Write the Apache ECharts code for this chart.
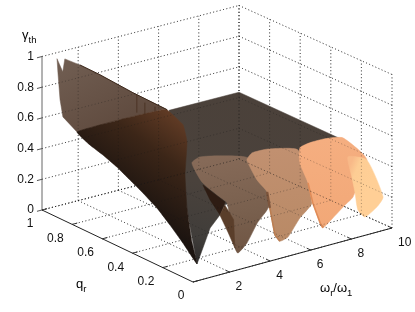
<!DOCTYPE html>
<html><head><meta charset="utf-8">
<style>html,body{margin:0;padding:0;background:#fff}#c{width:415px;height:312px}</style>
<script src="https://cdn.jsdelivr.net/npm/echarts@6/dist/echarts.min.js"></script>
</head><body><div id="c"></div>
<script>
// Tick values
const omegaTicks = [2, 4, 6, 8, 10];
const qTicks = [0, 0.2, 0.4, 0.6, 0.8, 1];
const gammaTicks = [0, 0.2, 0.4, 0.6, 0.8, 1];
const omegaLabels = ['2', '4', '6', '8', '10'];
const qLabels = ['0', '0.2', '0.4', '0.6', '0.8', '1'];
const gammaLabels = ['0', '0.2', '0.4', '0.6', '0.8', '1'];
// Surface outlines, each vertex [omega_r/omega_1, q_r, gamma_th]
const plateau = [[10,1,.435],[10,.33,.43],[5.98,.069,.556],[4.02,.136,.53],[3.14,.07,.4],[2.65,.118,.36],[2.16,.085,.327],[1.87,.111,.24],[1.47,.105,.127],[1.18,.105,.033],[1.38,.211,.394],[1.38,.31,.805],[6.52,1,.435]];
const wall = [[.94,.999,.961],[1.18,.993,.87],[1.23,.986,.956],[1.23,.887,.963],[1.23,.754,.961],[1.23,.536,.946],[1.23,.311,.941],[.94,.297,.958],[.94,.582,.759],[.94,.867,.546],[.94,.96,.6],[.94,.979,.703],[.94,.993,.873]];
const valley1 = [[.94,.867,.546],[.94,.582,.759],[.94,.297,.958],[1.38,.33,.926],[1.38,.225,.878],[1.38,.198,.779],[1.38,.211,.557],[1.38,.198,.348],[1.38,.165,.141],[1.18,.105,.033],[.98,.172,.146],[.98,.258,.224],[.98,.344,.294],[.98,.436,.348],[.98,.523,.393],[.98,.609,.437],[.98,.701,.472],[.98,.787,.497]];
const fold = [[2.36,.224,.451],[2.36,.078,.408],[2.36,.111,.308],[2.36,.177,.375]];
const sliver = [[2.65,.118,.359],[2.65,.151,.278],[2.65,.098,.192],[2.65,.052,.11],[2.65,.06,.29]];
const lobe3 = [[2.36,.297,.56],[3.14,.349,.547],[3.14,.217,.616],[4.12,.163,.593],[4.51,.037,.428],[4.02,.024,.32],[3.73,.044,.245],[3.24,.051,.122],[2.94,.071,.057],[2.65,.052,.11],[2.65,.085,.277],[2.36,.065,.408],[2.36,.131,.429],[2.36,.231,.467]];
const lobe5 = [[4.02,.156,.586],[4.32,.163,.618],[4.9,.136,.635],[6.08,.095,.606],[6.08,.003,.303],[5.59,.017,.216],[5.2,.043,.094],[4.9,.056,.071],[4.61,.05,.125],[4.41,.057,.305],[4.32,.063,.41],[4.12,.103,.477]];
const lobe7 = [[5.98,.069,.635],[6.37,.056,.66],[6.86,.022,.684],[8.04,.061,.63],[9.02,.034,.464],[8.24,.021,.256],[7.94,.034,.208],[7.35,.035,.144],[6.86,.035,.097],[6.67,.028,.14],[6.37,.036,.277],[6.18,.042,.412],[5.98,.069,.537]];
const lobe9 = [[8.92,.021,.473],[9.71,.02,.204],[9.41,.021,.148],[8.82,.021,.105],[8.53,.028,.158],[8.43,.034,.275],[8.33,.041,.374],[8.14,.041,.512]];
const wallTopEdge = [[1.23,.887,.963],[1.23,.754,.961],[1.23,.536,.946],[1.23,.311,.941]];
const spikes = [[[1.18,.503,.95],[1.18,.503,.833]],[[1.18,.45,.923],[1.18,.45,.845]],[[1.18,.383,.928],[1.18,.383,.895]]];
const lobe5Fold = [[4.32,.063,.41],[4.41,.057,.305]];
const lobe5Edge = [[4.41,.057,.305],[4.61,.05,.125],[4.9,.056,.071]];
const lobe7Edge = [[6.18,.042,.412],[6.37,.036,.277],[6.67,.028,.14],[6.86,.035,.097]];

// Projection of the 3D box: floor corners on the page, gamma as height
const OMEGA_MIN = 0.2, OMEGA_MAX = 10;
const CORNER = {front:[193,282], right:[392,228], left:[42,210], back:[239,159]};
const GAMMA_PX = 153.5;
function project(p){
  const t=(p[0]-OMEGA_MIN)/(OMEGA_MAX-OMEGA_MIN), q=p[1], g=p[2];
  const ax=CORNER.front[0]+(CORNER.right[0]-CORNER.front[0])*t, ay=CORNER.front[1]+(CORNER.right[1]-CORNER.front[1])*t;
  const bx=CORNER.left[0]+(CORNER.back[0]-CORNER.left[0])*t, by=CORNER.left[1]+(CORNER.back[1]-CORNER.left[1])*t;
  return [ax+(bx-ax)*q, ay+(by-ay)*q-GAMMA_PX*g];
}
const G=(x0,y0,x1,y1,stops)=>new echarts.graphic.LinearGradient(x0,y0,x1,y1,stops.map((c,i)=>({offset:c[0],color:c[1]})),true);

// Grid lines as 3D segments
const gridSegments=[];
gammaTicks.forEach(g=>{
  gridSegments.push([[OMEGA_MIN,1,g],[OMEGA_MAX,1,g]]);
  gridSegments.push([[OMEGA_MAX,1,g],[OMEGA_MAX,0,g]]);
});
omegaTicks.forEach(w=>{
  gridSegments.push([[w,1,0],[w,1,1]]);
  gridSegments.push([[w,0,0],[w,1,0]]);
});
qTicks.forEach(q=>{
  gridSegments.push([[OMEGA_MAX,q,0],[OMEGA_MAX,q,1]]);
  gridSegments.push([[OMEGA_MIN,q,0],[OMEGA_MAX,q,0]]);
});
const axisSegments=[
  {seg:[[OMEGA_MIN,1,0],[OMEGA_MIN,1,1]],c:'#666'},
  {seg:[[OMEGA_MIN,0,0],[OMEGA_MIN,1,0]],c:'#222'},
  {seg:[[OMEGA_MIN,0,0],[OMEGA_MAX,0,0]],c:'#222'}
];
gammaTicks.forEach(g=>axisSegments.push({seg:[[OMEGA_MIN,1,g],[OMEGA_MIN-0.25,1,g]],c:'#555'}));
qTicks.forEach(q=>axisSegments.push({seg:[[OMEGA_MIN,q,0],[OMEGA_MIN+0.25,q,0]],c:'#333'}));
omegaTicks.forEach(w=>axisSegments.push({seg:[[w,0,0],[w,0.025,0]],c:'#333'}));

const FONT='Liberation Sans, Arial, sans-serif';
const pageTexts=[];
gammaTicks.forEach((g,i)=>{const p=project([OMEGA_MIN,1,g]);pageTexts.push({t:gammaLabels[i],x:p[0]-8,y:p[1],a:'right'});});
qTicks.forEach((q,i)=>{const p=project([OMEGA_MIN,q,0]);pageTexts.push({t:qLabels[i],x:p[0]-8.5,y:p[1]+14,a:'right'});});
omegaTicks.forEach((w,i)=>{const p=project([w,0,0]);pageTexts.push({t:omegaLabels[i],x:p[0]+6,y:p[1]+15,a:'left'});});

function polySeries(name,pts,fill,z,smooth){
  return {type:'custom',name,coordinateSystem:'cartesian2d',data:pts,z,silent:true,animation:false,clip:false,
    encode:{x:0,y:1},
    renderItem(params,api){
      if(params.dataIndex!==0) return null;
      return {type:'polygon',shape:{points:pts.map(p=>api.coord(project(p))),smooth:smooth||0},style:{fill,stroke:fill,lineWidth:.5}};
    }};
}
function lineSeries(name,segs,styleOf,z){
  return {type:'custom',name,coordinateSystem:'cartesian2d',data:segs.map((s,i)=>[i,0]),z,silent:true,animation:false,clip:false,
    encode:{x:0,y:1},
    renderItem(params,api){
      const s=segs[params.dataIndex];
      const pts=(s.seg||s).map(p=>api.coord(project(p)));
      return {type:'polyline',shape:{points:pts},style:Object.assign({fill:null},styleOf(s))};
    }};
}
const gridStyle=a=>()=>({stroke:'rgba(20,20,20,'+a+')',lineWidth:1,lineDash:[1,2.4]});

const series=[
  lineSeries('grid',gridSegments,gridStyle(.66),1),
  polySeries('plateau',plateau,G(240,92,197,264,[[0,'#4b413a'],[.55,'#4a423c'],[.85,'#403d3a'],[1,'#2e2c2b']]),2),
  polySeries('wall',wall,G(80,60,120,130,[[0,'#6f5c50'],[1,'#5f4a3e']]),3),
  polySeries('valley1',valley1,G(185,125,130,200,[[0,'#5f3a24'],[.4,'#3c2618'],[1,'#1c1410']]),4,.1),
  polySeries('lobe3',lobe3,G(220,157,238,252,[[0,'#866a58'],[.6,'#79604e'],[1,'#705644']]),5,.18),
  polySeries('fold',fold,'#2e1c13',6),
  polySeries('sliver',sliver,'#5a3e2a',6),
  polySeries('lobe5',lobe5,G(270,150,281,240,[[0,'#c19070'],[1,'#b98a66']]),7,.15),
  polySeries('lobe7',lobe7,G(320,140,323,228,[[0,'#f5ae80'],[1,'#f2a877']]),8,.18),
  polySeries('lobe9',lobe9,G(348,170,372,180,[[0,'#f8b988'],[.3,'#fdcd94'],[1,'#ffcf96']]),9,.18),
  lineSeries('wallTopEdge',[wallTopEdge],()=>({stroke:'#3a2619',lineWidth:1}),10),
  lineSeries('spikes',spikes,()=>({stroke:'rgba(70,45,30,.8)',lineWidth:1}),10),
  lineSeries('lobe5Fold',[lobe5Fold],()=>({stroke:'#7d553c',lineWidth:2.4}),10),
  lineSeries('lobe5Edge',[lobe5Edge],()=>({stroke:'#bb7e52',lineWidth:1.6}),10),
  lineSeries('lobe7Edge',[lobe7Edge],()=>({stroke:'#e08c58',lineWidth:1.6}),10),
  lineSeries('gridOver',gridSegments,gridStyle(.34),11),
  lineSeries('axes',axisSegments,s=>({stroke:s.c,lineWidth:1}),12),
  {type:'custom',name:'labels',coordinateSystem:'cartesian2d',data:pageTexts.map((s,i)=>[s.x,s.y]),z:13,silent:true,animation:false,clip:false,
    encode:{x:0,y:1},
    renderItem(params,api){
      const s=pageTexts[params.dataIndex];const c=api.coord([s.x,s.y]);
      return {type:'text',x:c[0],y:c[1],style:{text:s.t,fill:'#111',font:'12px '+FONT,align:s.a,verticalAlign:'middle'}};
    }}
];
const chart=echarts.init(document.getElementById('c'),null,{renderer:'canvas'});
const titleRich={m:{fontSize:13,fontFamily:FONT,color:'#111'},s:{fontSize:9.5,fontFamily:FONT,color:'#111',padding:[9,0,0,0]}};
chart.setOption({
  animation:false,backgroundColor:'#fff',
  grid:{left:0,right:0,top:0,bottom:0},
  xAxis:{type:'value',min:0,max:415,show:false},
  yAxis:{type:'value',min:0,max:312,inverse:true,show:false},
  graphic:[
    {type:'text',x:22,y:26,z:20,style:{text:'{m|γ}{s|th}',rich:titleRich}},
    {type:'text',x:76,y:275,z:20,style:{text:'{m|q}{s|r}',rich:titleRich}},
    {type:'text',x:320,y:279,z:20,style:{text:'{m|ω}{s|r}{m|/ω}{s|1}',rich:titleRich}}
  ],
  series
});
</script></body></html>
